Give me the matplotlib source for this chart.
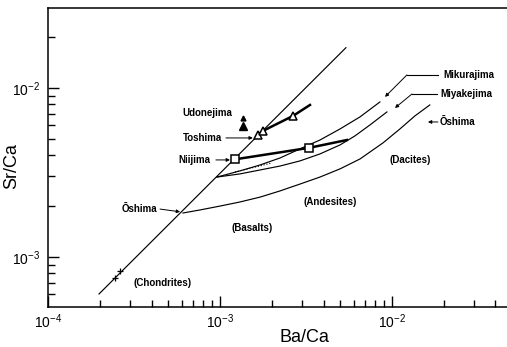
import numpy as np
import matplotlib
matplotlib.use("Agg")
import matplotlib.pyplot as plt
from matplotlib.ticker import LogLocator, NullFormatter

plt.rcParams['font.family'] = ['Liberation Sans', 'DejaVu Sans']
plt.rcParams['mathtext.fontset'] = 'custom'
plt.rcParams['mathtext.rm'] = 'Liberation Sans'
plt.rcParams['mathtext.it'] = 'Liberation Sans:italic'
plt.rcParams['mathtext.bf'] = 'Liberation Sans:bold'

# chondrite line, Sr/Ca proportional to Ba/Ca
chon_ba = [1.98e-4, 5.40e-3]
chon_sr = [6.04e-4, 1.73e-2]
chon_pts_ba = [2.45e-4, 2.62e-4]
chon_pts_sr = [7.5e-4, 8.26e-4]

# Oshima trend (basalts -> andesites -> dacites)
oshima_ba = [6.09e-4, 7.65e-4, 1.0e-3, 1.307e-3, 1.71e-3, 2.233e-3, 2.92e-3, 3.815e-3,
             4.99e-3, 6.52e-3, 8.87e-3, 1.113e-2, 1.36e-2, 1.66e-2]
oshima_sr = [1.82e-3, 1.897e-3, 2.00e-3, 2.115e-3, 2.26e-3, 2.458e-3, 2.70e-3, 2.97e-3,
             3.32e-3, 3.80e-3, 4.73e-3, 5.72e-3, 6.83e-3, 7.93e-3]

# Mikurajima trend
miku_ba = [9.61e-4, 1.307e-3, 1.708e-3, 2.233e-3, 2.918e-3, 3.815e-3, 4.99e-3, 6.52e-3, 8.51e-3]
miku_sr = [2.97e-3, 3.23e-3, 3.50e-3, 3.85e-3, 4.36e-3, 4.92e-3, 5.72e-3, 6.74e-3, 8.26e-3]

# Miyakejima trend
miya_ba = [9.61e-4, 1.307e-3, 1.708e-3, 2.233e-3, 2.918e-3, 3.815e-3, 4.99e-3, 6.09e-3, 7.45e-3, 9.35e-3]
miya_sr = [2.97e-3, 3.10e-3, 3.27e-3, 3.45e-3, 3.70e-3, 4.07e-3, 4.60e-3, 5.20e-3, 6.04e-3, 7.21e-3]

# dotted segment
dot_ba = [1.222e-3, 2.006e-3]
dot_sr = [3.18e-3, 3.60e-3]

# Niijima
nii_ba = [1.222e-3, 3.292e-3, 5.475e-3]
nii_sr = [3.78e-3, 4.42e-3, 4.92e-3]

# Toshima / Udonejima
tos_ba = [1.663e-3, 1.778e-3, 2.657e-3, 3.337e-3]
tos_sr = [5.27e-3, 5.57e-3, 6.83e-3, 7.93e-3]

udo_ba = [1.36e-3, 1.36e-3]
udo_sr = [5.96e-3, 6.64e-3]

fig = plt.figure(figsize=(5.07, 3.47), dpi=100)
ax = fig.add_axes([0.0947, 0.1153, 0.9053, 0.8617])
ax.set_xscale('log')
ax.set_yscale('log')

k = 'black'
ax.plot(chon_ba, chon_sr, color=k, lw=0.85)
ax.plot(chon_pts_ba, chon_pts_sr, ls='none', marker='+', ms=5, mew=0.9, color=k)
ax.plot(oshima_ba, oshima_sr, color=k, lw=0.85)
ax.plot(miku_ba, miku_sr, color=k, lw=0.85)
ax.plot(miya_ba, miya_sr, color=k, lw=0.85)
ax.plot(dot_ba, dot_sr, color=k, lw=0.8, ls=':')

ax.plot(nii_ba, nii_sr, color=k, lw=1.8)
ax.plot(nii_ba[:2], nii_sr[:2], ls='none', marker='s', ms=6, mfc='white', mec=k, mew=1.1)
ax.plot(tos_ba, tos_sr, color=k, lw=1.8)
ax.plot(tos_ba[:3], tos_sr[:3], ls='none', marker='^', ms=6, mfc='white', mec=k, mew=1.1)
ax.plot(udo_ba[0], udo_sr[0], ls='none', marker='^', ms=6, color=k)
ax.plot(udo_ba[1], udo_sr[1], ls='none', marker='^', ms=3.5, color=k)

ax.set_xlim(1e-4, 10 ** -1.331)
ax.set_ylim(10 ** -3.296, 10 ** -1.527)

ax.set_xticks([1e-4, 1e-3, 1e-2], labels=[r'$10^{-4}$', r'$10^{-3}$', r'$10^{-2}$'])
ax.set_yticks([1e-3, 1e-2], labels=[r'$10^{-3}$', r'$10^{-2}$'])
ax.xaxis.set_minor_locator(LogLocator(base=10, subs=np.arange(2, 10)))
ax.yaxis.set_minor_locator(LogLocator(base=10, subs=np.arange(2, 10)))
ax.xaxis.set_minor_formatter(NullFormatter())
ax.yaxis.set_minor_formatter(NullFormatter())
ax.tick_params(which='both', direction='in', top=False, right=False, width=1.0, labelsize=10)
ax.tick_params(which='major', length=8)
ax.tick_params(which='minor', length=5)
ax.tick_params(axis='x', pad=4)
ax.tick_params(axis='y', pad=6)

for s in ['left', 'bottom', 'top']:
    ax.spines[s].set_linewidth(1.1)
ax.spines['right'].set_visible(False)

fig.text(304 / 507, 1 - 338 / 347, 'Ba/Ca', ha='center', va='center', fontsize=13)
fig.text(12 / 507, 1 - 166 / 347, 'Sr/Ca', ha='center', va='center', fontsize=13, rotation=90)

lab = dict(fontsize=7, fontweight='bold', va='center')
arw = dict(arrowstyle='-|>', color=k, lw=0.7, mutation_scale=5, shrinkA=0, shrinkB=0)

ax.text(8.40e-4, 7.11e-3, 'Udonejima', ha='center', **lab)
ax.text(1.027e-3, 5.06e-3, 'Toshima', ha='right', **lab)
ax.annotate('', xy=(1.552e-3, 5.06e-3), xytext=(1.083e-3, 5.06e-3), arrowprops=arw)
ax.text(8.75e-4, 3.75e-3, 'Niijima', ha='right', **lab)
ax.annotate('', xy=(1.143e-3, 3.75e-3), xytext=(9.47e-4, 3.75e-3), arrowprops=arw)
ax.text(4.30e-4, 1.92e-3, 'Ōshima', ha='right', **lab)
ax.annotate('', xy=(5.86e-4, 1.85e-3), xytext=(4.48e-4, 1.92e-3), arrowprops=arw)

ax.text(4.66e-4, 7.02e-4, '(Chondrites)', ha='center', **lab)
ax.text(1.535e-3, 1.48e-3, '(Basalts)', ha='center', **lab)
ax.text(4.36e-3, 2.115e-3, '(Andesites)', ha='center', **lab)
ax.text(1.27e-2, 3.75e-3, '(Dacites)', ha='center', **lab)

# leader lines on the right
ax.text(1.98e-2, 1.194e-2, 'Mikurajima', ha='left', **lab)
ax.plot([1.85e-2, 1.222e-2], [1.194e-2, 1.194e-2], color=k, lw=0.8)
ax.annotate('', xy=(9.11e-3, 8.85e-3), xytext=(1.222e-2, 1.194e-2), arrowprops=arw)
ax.text(1.90e-2, 9.21e-3, 'Miyakejima', ha='left', **lab)
ax.plot([1.826e-2, 1.307e-2], [9.21e-3, 9.21e-3], color=k, lw=0.8)
ax.annotate('', xy=(1.041e-2, 7.61e-3), xytext=(1.307e-2, 9.21e-3), arrowprops=arw)
ax.text(1.90e-2, 6.29e-3, 'Ōshima', ha='left', **lab)
ax.annotate('', xy=(1.619e-2, 6.29e-3), xytext=(1.85e-2, 6.29e-3), arrowprops=arw)

fig.savefig('out.png', dpi=100)
